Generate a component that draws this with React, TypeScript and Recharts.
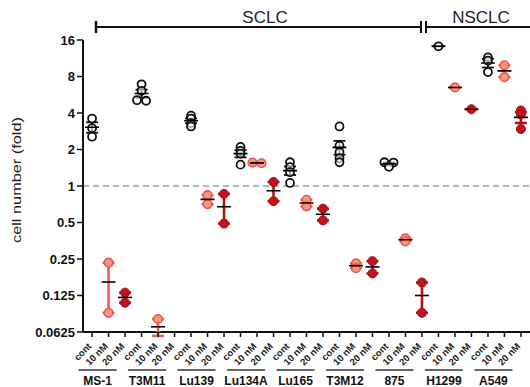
import React from 'react'
import { ComposedChart, Scatter, XAxis, YAxis, ErrorBar, ReferenceLine } from 'recharts'

// cell lines and treatment doses, in the order of the x axis
const cellLines = ['MS-1', 'T3M11', 'Lu139', 'Lu134A', 'Lu165', 'T3M12', '875', 'H1299', 'A549']
const doses = ['cont', '10 nM', '20 nM']
const yTicks = [0.0625, 0.125, 0.25, 0.5, 1, 2, 4, 8, 16]

// fold change in cell number, one list of replicates per cell line
const contFold = [
  [3.6, 3.0, 2.55],
  [6.9, 6.1, 5.1, 5.05],
  [3.8, 3.6, 3.3, 3.1],
  [2.1, 1.95, 1.85, 1.5],
  [1.57, 1.43, 1.3, 1.06],
  [3.1, 2.15, 1.9, 1.7, 1.57],
  [1.57, 1.56, 1.44],
  [14.2],
  [11.5, 10.8, 8.7],
]
const nm10Fold = [
  [0.233, 0.09],
  [0.08, 0.058],
  [0.84, 0.71],
  [1.56, 1.54],
  [0.77, 0.68],
  [0.23, 0.21],
  [0.37, 0.35],
  [6.5],
  [9.9, 7.9],
]
const nm20Fold = [
  [0.132, 0.109],
  [],
  [0.86, 0.49],
  [1.08, 0.75],
  [0.65, 0.52],
  [0.24, 0.19],
  [0.16, 0.09],
  [4.3],
  [4.2, 3.9, 2.95],
]

const foldByDose = [contFold, nm10Fold, nm20Fold]
const barColors = ['#111111', '#ef5a5a', '#b3121a']

// spread near-identical replicates sideways like a dot plot does
function spread(values: number[], center: number) {
  const sorted = [...values].sort((a, b) => b - a)
  const pts: { x: number; y: number }[] = []
  let i = 0
  while (i < sorted.length) {
    let j = i + 1
    while (j < sorted.length && Math.log2(sorted[j - 1] / sorted[j]) < 0.06) j++
    const k = j - i
    for (let m = i; m < j; m++) pts.push({ x: center + (m - i - (k - 1) / 2) * 0.55, y: sorted[m] })
    i = j
  }
  return pts
}

function summary(values: number[], center: number) {
  const n = values.length
  const mean = values.reduce((s, v) => s + v, 0) / n
  const sd = n > 1 ? Math.sqrt(values.reduce((s, v) => s + (v - mean) ** 2, 0) / (n - 1)) : 0
  const sem = sd / Math.sqrt(n)
  return { x: center, y: mean, err: [sem, sem] }
}

const points = foldByDose.map((rows, d) => rows.flatMap((vals, g) => spread(vals, g * 3 + d)))
const means = foldByDose.map((rows, d) =>
  rows.map((vals, g) => (vals.length ? summary(vals, g * 3 + d) : null)).filter(Boolean) as any[]
)
const xTicks = cellLines.flatMap((_, g) => doses.map((__, d) => g * 3 + d))

const font = '"Liberation Sans", Arial, sans-serif'

const Blank = () => <g />

const MeanLine = (props: any) => (
  <line x1={props.cx - 7} x2={props.cx + 7} y1={props.cy} y2={props.cy} stroke="#000" strokeWidth={1.6} />
)

const ContDot = (props: any) => (
  <circle cx={props.cx} cy={props.cy} r={4} fill="#fff" fillOpacity={0.6} stroke="#111" strokeWidth={1.8} />
)
const Nm10Dot = (props: any) => (
  <circle cx={props.cx} cy={props.cy} r={4.3} fill="#f59a78" stroke="#ee5555" strokeWidth={1.6} />
)
const Nm20Dot = (props: any) => (
  <circle cx={props.cx} cy={props.cy} r={4.5} fill="#c0141c" stroke="#a80f16" strokeWidth={1} />
)
const dotShapes = [ContDot, Nm10Dot, Nm20Dot]

function DoseTick(props: any) {
  const { x, y, payload } = props
  const i = payload.value as number
  const ax = x
  const ay = y + 8
  return (
    <g>
      <text
        x={ax}
        y={ay}
        transform={`rotate(-45 ${ax} ${ay})`}
        textAnchor="end"
        fontSize={9.5}
        fontWeight={700}
        fill="#222"
        fontFamily={font}
      >
        {doses[i % 3]}
      </text>
      {i % 3 === 1 && (
        <g>
          <line x1={x - 30} x2={x + 8} y1={y + 31} y2={y + 31} stroke="#333" strokeWidth={1.5} />
          <text x={x - 11} y={y + 46} textAnchor="middle" fontSize={12} fontWeight={700} fill="#111" fontFamily={font}>
            {cellLines[Math.floor(i / 3)]}
          </text>
        </g>
      )}
    </g>
  )
}

export default function App() {
  return (
    <div style={{ position: 'absolute', left: 0, top: 0, width: 530, height: 387, background: '#fff', fontFamily: font }}>
      <ComposedChart width={530} height={387} margin={{ top: 40, right: 0, bottom: 0, left: 8 }}>
        <XAxis
          type="number"
          dataKey="x"
          domain={[-0.55, 26.55]}
          ticks={xTicks}
          interval={0}
          height={55}
          tick={<DoseTick />}
          tickSize={5}
          axisLine={{ stroke: '#111', strokeWidth: 2 }}
          tickLine={{ stroke: '#111', strokeWidth: 1.5 }}
        />
        <YAxis
          type="number"
          dataKey="y"
          scale="log"
          domain={[0.0625, 16]}
          ticks={yTicks}
          allowDataOverflow
          width={75}
          tickSize={6}
          axisLine={{ stroke: '#111', strokeWidth: 2 }}
          tickLine={{ stroke: '#111', strokeWidth: 1.5 }}
          tick={{ fill: '#111', fontSize: 13, fontWeight: 700, fontFamily: font }}
        />
        <ReferenceLine y={1} stroke="#a0a0a0" strokeWidth={1.5} strokeDasharray="6 4" />
        {doses.map((d, di) => (
          <Scatter key={'err-' + d} data={means[di]} shape={<Blank />} isAnimationActive={false}>
            <ErrorBar dataKey="err" direction="y" width={6} stroke={barColors[di]} strokeWidth={di === 0 ? 1.8 : 2.6} />
          </Scatter>
        ))}
        {doses.map((d, di) => {
          const Shape = dotShapes[di]
          return <Scatter key={'pts-' + d} data={points[di]} shape={<Shape />} isAnimationActive={false} />
        })}
        {doses.map((d, di) => (
          <Scatter key={'mean-' + d} data={means[di]} shape={<MeanLine />} isAnimationActive={false} />
        ))}
      </ComposedChart>
      <svg width={530} height={387} style={{ position: 'absolute', left: 0, top: 0, pointerEvents: 'none' }}>
        <line x1={96} x2={421} y1={27} y2={27} stroke="#111" strokeWidth={2} />
        <line x1={96} x2={96} y1={21} y2={33} stroke="#111" strokeWidth={2.5} />
        <line x1={421} x2={421} y1={21} y2={33} stroke="#111" strokeWidth={2} />
        <line x1={426} x2={426} y1={21} y2={33} stroke="#111" strokeWidth={2} />
        <line x1={426} x2={530} y1={27} y2={27} stroke="#111" strokeWidth={2} />
        <text x={265} y={23} textAnchor="middle" fontSize={17} fill="#222" fontFamily={font}>SCLC</text>
        <text x={481} y={23} textAnchor="middle" fontSize={17} fill="#222" fontFamily={font}>NSCLC</text>
        <text
          x={18}
          y={180}
          transform="rotate(-90 18 180)"
          textAnchor="middle"
          dominantBaseline="middle"
          fontSize={13}
          fill="#222"
          fontFamily={font}
          textLength={126}
          lengthAdjust="spacingAndGlyphs"
        >
          cell number (fold)
        </text>
      </svg>
    </div>
  )
}
